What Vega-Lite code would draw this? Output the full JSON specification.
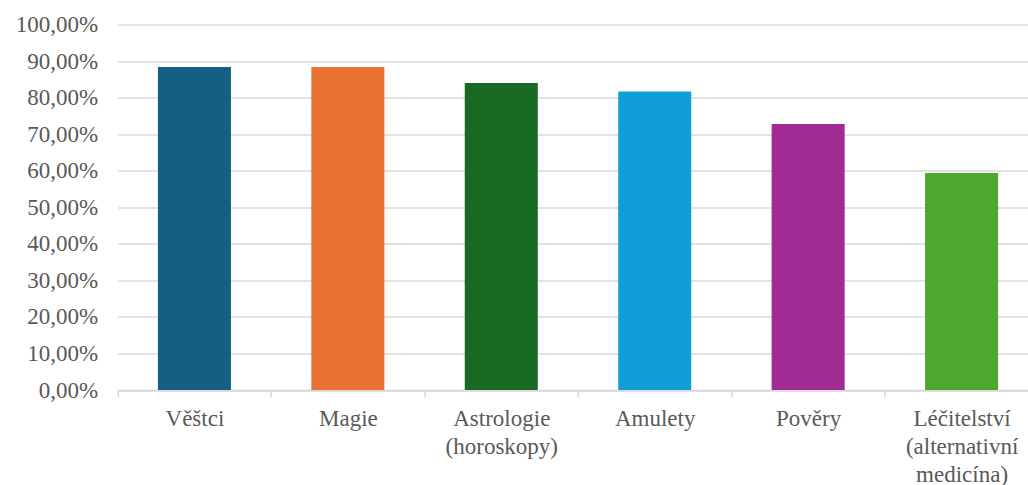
{
  "$schema": "https://vega.github.io/schema/vega-lite/v6.json",
  "autosize": {"type": "none"},
  "padding": {"left": 117.7, "top": 24.5, "right": 0, "bottom": 95},
  "width": 910.3,
  "height": 365.5,
  "background": "white",
  "data": {
    "values": [
      {"kategorie": "Věštci", "podil": 88.4},
      {"kategorie": "Magie", "podil": 88.4},
      {"kategorie": "Astrologie (horoskopy)", "podil": 84.0},
      {"kategorie": "Amulety", "podil": 81.7},
      {"kategorie": "Pověry", "podil": 72.8},
      {"kategorie": "Léčitelství (alternativní medicína)", "podil": 59.4}
    ]
  },
  "mark": {"type": "bar", "width": {"band": 0.476}},
  "encoding": {
    "x": {
      "field": "kategorie",
      "type": "nominal",
      "sort": null,
      "title": null,
      "scale": {"paddingInner": 0, "paddingOuter": 0, "range": [0, 920.6]},
      "axis": {
        "labelAngle": 0,
        "labelExpr": "split(datum.label, ' ')",
        "labelFont": "Liberation Serif",
        "labelFontSize": 23,
        "labelColor": "#595959",
        "labelLineHeight": 28,
        "labelPadding": 10,
        "labelLimit": 300,
        "tickBand": "extent",
        "ticks": true,
        "tickSize": 7,
        "tickColor": "#d9d9d9",
        "tickWidth": 1.5,
        "domainColor": "#d9d9d9",
        "domainWidth": 1.5,
        "grid": false
      }
    },
    "y": {
      "field": "podil",
      "type": "quantitative",
      "title": null,
      "scale": {"domain": [0, 100], "nice": false},
      "axis": {
        "values": [0, 10, 20, 30, 40, 50, 60, 70, 80, 90, 100],
        "labelExpr": "replace(format(datum.value, '.2f'), '.', ',') + '%'",
        "labelFont": "Liberation Serif",
        "labelFontSize": 23,
        "labelColor": "#595959",
        "labelPadding": 20,
        "ticks": false,
        "domain": false,
        "grid": true,
        "gridColor": "#d9d9d9",
        "gridWidth": 1.5
      }
    },
    "color": {
      "field": "kategorie",
      "type": "nominal",
      "sort": null,
      "legend": null,
      "scale": {
        "domain": ["Věštci", "Magie", "Astrologie (horoskopy)", "Amulety", "Pověry", "Léčitelství (alternativní medicína)"],
        "range": ["#156082", "#e97132", "#196b24", "#0f9ed5", "#a02b93", "#4ea72e"]
      }
    }
  },
  "config": {"view": {"stroke": null}}
}
